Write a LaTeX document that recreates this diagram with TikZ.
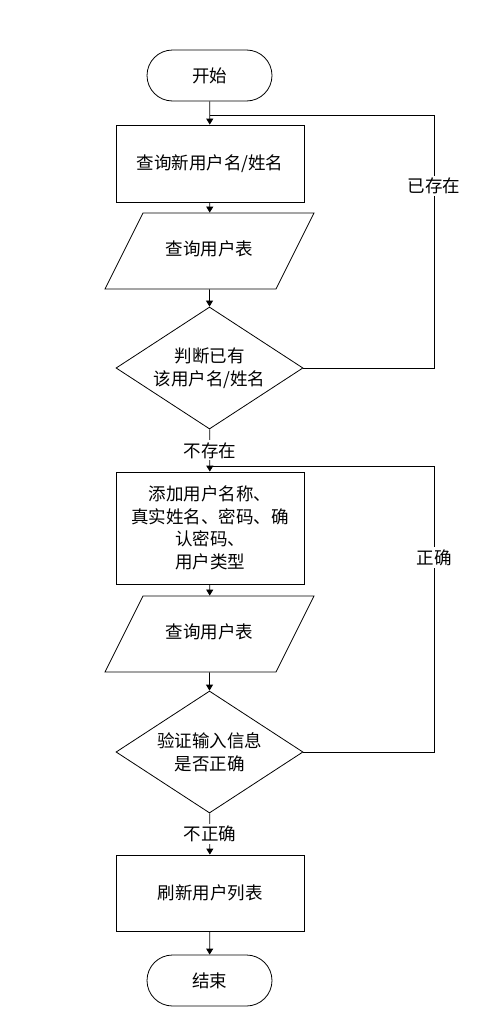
\documentclass[tikz,border=0pt]{standalone}
\usepackage{fontspec}
\newfontfamily\cjk{Noto Sans CJK SC}
\usepackage{tikz}
\usetikzlibrary{arrows.meta,shapes.geometric,shapes.misc,positioning}

\begin{document}
\begin{tikzpicture}[
  x=1pt, y=-1pt,
  every node/.style={font=\cjk\fontsize{17.5}{22.7}\selectfont, align=center, inner sep=0pt},
  term/.style={rounded rectangle, draw, minimum width=125pt, minimum height=51pt},
  proc/.style={rectangle, draw, minimum width=188pt, minimum height=77pt},
  io/.style={trapezium, draw, trapezium left angle=63.43, trapezium right angle=116.57,
    text height=13pt, text depth=4pt, inner xsep=0pt, inner ysep=29.5pt,
    trapezium stretches body, minimum width=209pt},
  decision/.style={diamond, draw, aspect=1.53, minimum width=187pt, minimum height=122pt},
  edge label/.style={fill=white, inner sep=2pt},
  line width=0.8pt, >={Triangle[length=6pt,width=7pt]}
]
  \useasboundingbox (0,0) rectangle (486,1017);

  \node[term]     (start) at (209.5, 75.5) {开始};
  \node[proc]     (query) at (210, 163.5)  {查询新用户名/姓名};
  \node[io]       (tab1)  at (209.5, 251)  {查询用户表};
  \node[decision] (chk1)  at (209.5, 368)  {判断已有\\该用户名/姓名};
  \node[proc, minimum height=112pt] (add) at (210, 528) {添加用户名称、\\真实姓名、密码、确\\认密码、\\用户类型};
  \node[io]       (tab2)  at (209.5, 634)  {查询用户表};
  \node[decision] (chk2)  at (209.5, 752)  {验证输入信息\\是否正确};
  \node[proc, minimum height=76pt] (refresh) at (210, 893) {刷新用户列表};
  \node[term]     (stop)  at (209.5, 980.5) {结束};

  \coordinate (j1) at (209.5, 115);
  \coordinate (r1) at (434, 115);
  \coordinate (j2) at (209.5, 466);
  \coordinate (r2) at (434, 466);

  % main flow
  \draw[->] (start) -- (query);
  \draw[->] (query) -- (tab1);
  \draw[->] (tab1) -- (chk1);
  \draw[->] (chk1) -- node[edge label] {不存在} (add);
  \draw[->] (add) -- (tab2);
  \draw[->] (tab2) -- (chk2);
  \draw[->] (chk2) -- node[edge label] {不正确} (refresh);
  \draw[->] (refresh) -- (stop);

  % loops back
  \draw (chk1.east) -| node[edge label, pos=0.86] {已存在} (r1) -- (j1);
  \draw (chk2.east) -| node[edge label, pos=0.84] {正确} (r2) -- (j2);
\end{tikzpicture}
\end{document}
